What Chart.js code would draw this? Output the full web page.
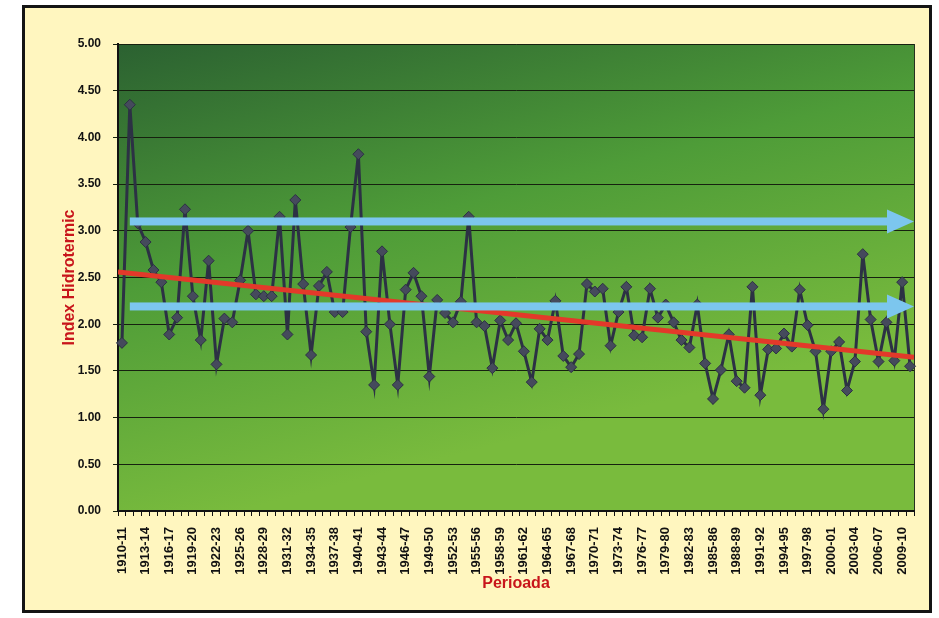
<!DOCTYPE html>
<html>
<head>
<meta charset="utf-8">
<title>Index Hidrotermic</title>
<script src="https://cdn.jsdelivr.net/npm/chart.js@4.4.1/dist/chart.umd.min.js"></script>
<style>
  html, body { margin: 0; padding: 0; background: #ffffff; overflow: hidden; }
  #wrap { position: relative; width: 939px; height: 618px; }
  #frame {
    position: absolute; left: 22px; top: 5px; width: 910px; height: 608px;
    box-sizing: border-box; border: 3px solid #141414; background: #fff6bf;
  }
  #chart { position: absolute; left: 0; top: 0; }
</style>
</head>
<body>
<div id="wrap">
  <div id="frame"></div>
  <canvas id="chart" width="939" height="618"></canvas>
</div>
<script>
// Agricultural years on the category axis
const periods = [
  '1910-11','1911-12','1912-13','1913-14','1914-15','1915-16','1916-17','1917-18','1918-19','1919-20',
  '1920-21','1921-22','1922-23','1923-24','1924-25','1925-26','1926-27','1927-28','1928-29','1929-30',
  '1930-31','1931-32','1932-33','1933-34','1934-35','1935-36','1936-37','1937-38','1938-39','1939-40',
  '1940-41','1941-42','1942-43','1943-44','1944-45','1945-46','1946-47','1947-48','1948-49','1949-50',
  '1950-51','1951-52','1952-53','1953-54','1954-55','1955-56','1956-57','1957-58','1958-59','1959-60',
  '1960-61','1961-62','1962-63','1963-64','1964-65','1965-66','1966-67','1967-68','1968-69','1969-70',
  '1970-71','1971-72','1972-73','1973-74','1974-75','1975-76','1976-77','1977-78','1978-79','1979-80',
  '1980-81','1981-82','1982-83','1983-84','1984-85','1985-86','1986-87','1987-88','1988-89','1989-90',
  '1990-91','1991-92','1992-93','1993-94','1994-95','1995-96','1996-97','1997-98','1998-99','1999-00',
  '2000-01','2001-02','2002-03','2003-04','2004-05','2005-06','2006-07','2007-08','2008-09','2009-10',
  '2010-11'
];

// Hydrothermal index for each period
const hydroIndex = [
  1.80, 4.35, 3.08, 2.88, 2.58, 2.45, 1.89, 2.07, 3.23, 2.30,
  1.83, 2.68, 1.57, 2.06, 2.02, 2.47, 3.00, 2.32, 2.30, 2.30,
  3.15, 1.89, 3.33, 2.43, 1.67, 2.41, 2.56, 2.13, 2.13, 3.04,
  3.82, 1.92, 1.35, 2.78, 2.00, 1.35, 2.37, 2.55, 2.30, 1.44,
  2.26, 2.12, 2.02, 2.24, 3.15, 2.02, 1.98, 1.53, 2.04, 1.83,
  2.01, 1.71, 1.38, 1.95, 1.83, 2.25, 1.66, 1.54, 1.68, 2.43,
  2.35, 2.38, 1.77, 2.13, 2.40, 1.88, 1.86, 2.38, 2.07, 2.21,
  2.02, 1.83, 1.75, 2.21, 1.58, 1.20, 1.51, 1.89, 1.39, 1.32,
  2.40, 1.24, 1.73, 1.74, 1.90, 1.76, 2.37, 1.99, 1.71, 1.09,
  1.71, 1.81, 1.29, 1.60, 2.75, 2.05, 1.60, 2.02, 1.61, 2.45,
  1.55
];

// Linear trend: value at the left and right edge of the period axis
const trendValues = [2.56, 1.645];

// Levels marked by the two horizontal arrows
const arrowLevels = [3.10, 2.19];

// Value axis range and step
const yRange = [0, 5];
const yStep = 0.5;

// Show every n-th period label
const labelEvery = 3;

const FONT = '"Liberation Sans", Arial, Helvetica, sans-serif';
const lastIdx = periods.length - 1;

// Green gradient behind the plot area and a thin right edge
const plotBackground = {
  id: 'plotBackground',
  beforeDraw(chart) {
    const { ctx, chartArea: a } = chart;
    const g = ctx.createLinearGradient(a.left, a.top, a.left + 120, a.bottom);
    g.addColorStop(0, '#2b6131');
    g.addColorStop(0.5, '#4e9c38');
    g.addColorStop(1, '#79bb3d');
    ctx.save();
    ctx.fillStyle = g;
    ctx.fillRect(a.left, a.top, a.right - a.left, a.bottom - a.top);
    ctx.strokeStyle = '#27301f';
    ctx.lineWidth = 1;
    ctx.beginPath();
    ctx.moveTo(a.right + 0.5, a.top);
    ctx.lineTo(a.right + 0.5, a.bottom);
    ctx.stroke();
    ctx.restore();
  }
};

// Thick arrows drawn between the first and last point of datasets flagged "arrow"
const arrowPlugin = {
  id: 'arrowPlugin',
  afterDatasetsDraw(chart, args, opts) {
    const { ctx } = chart;
    chart.data.datasets.forEach((ds, i) => {
      if (!ds.arrow) return;
      const pts = chart.getDatasetMeta(i).data;
      const a = pts[0], b = pts[pts.length - 1];
      const base = b.x - opts.headLength;
      ctx.save();
      ctx.fillStyle = ds.borderColor;
      ctx.fillRect(a.x, a.y - opts.shaftWidth / 2, base - a.x, opts.shaftWidth);
      ctx.beginPath();
      ctx.moveTo(base, b.y - opts.headHalfWidth);
      ctx.lineTo(b.x, b.y);
      ctx.lineTo(base, b.y + opts.headHalfWidth);
      ctx.closePath();
      ctx.fill();
      ctx.restore();
    });
  }
};

const arrowDatasets = arrowLevels.map(v => ({
  arrow: true,
  xAxisID: 'xf',
  data: [{ x: 1, y: v }, { x: lastIdx + 0.5, y: v }],
  borderColor: '#7cc6ee',
  showLine: false,
  pointRadius: 0,
  order: 0
}));

new Chart(document.getElementById('chart'), {
  type: 'line',
  data: {
    labels: periods,
    datasets: [
      ...arrowDatasets,
      {
        label: 'Trend',
        xAxisID: 'xf',
        data: [{ x: -0.5, y: trendValues[0] }, { x: lastIdx + 0.5, y: trendValues[1] }],
        borderColor: '#e3392a',
        borderWidth: 5,
        pointRadius: 0,
        order: 1
      },
      {
        label: 'Index Hidrotermic',
        xAxisID: 'x',
        data: hydroIndex,
        borderColor: '#2c3144',
        borderWidth: 3,
        pointStyle: 'rectRot',
        pointRadius: 5.5,
        pointBackgroundColor: '#454a5c',
        pointBorderColor: '#2c3144',
        pointBorderWidth: 1,
        tension: 0,
        order: 2
      }
    ]
  },
  options: {
    responsive: false,
    animation: false,
    events: [],
    layout: { padding: { left: 0, top: 44, right: 25, bottom: 0 } },
    plugins: {
      legend: { display: false },
      tooltip: { enabled: false },
      arrowPlugin: { headLength: 27, headHalfWidth: 12, shaftWidth: 8 }
    },
    scales: {
      x: {
        type: 'category',
        offset: true,
        grid: { drawOnChartArea: false, drawTicks: true, tickLength: 5, offset: true, color: '#111111', lineWidth: 1 },
        border: { display: true, color: '#111111', width: 2 },
        ticks: {
          autoSkip: false,
          minRotation: 90,
          maxRotation: 90,
          padding: 11,
          color: '#111111',
          font: { family: FONT, size: 13, weight: 'bold' },
          callback(value, index) { return index % labelEvery === 0 ? this.getLabelForValue(value) : ''; }
        },
        title: {
          display: true,
          text: 'Perioada',
          color: '#c8151b',
          font: { family: FONT, size: 16, weight: 'bold' },
          padding: { top: 0, bottom: 25 }
        },
        afterFit(scale) { scale.height = 107; }
      },
      xf: { type: 'linear', display: false, min: -0.5, max: lastIdx + 0.5 },
      y: {
        min: yRange[0],
        max: yRange[1],
        grid: { color: '#16210f', lineWidth: 1, drawTicks: true, tickLength: 5 },
        border: { color: '#111111', width: 2 },
        ticks: {
          stepSize: yStep,
          padding: 12,
          color: '#111111',
          font: { family: FONT, size: 12, weight: 'bold' },
          callback: v => v.toFixed(2)
        },
        title: {
          display: true,
          text: 'Index Hidrotermic',
          color: '#c8151b',
          font: { family: FONT, size: 16, weight: 'bold' },
          padding: { top: 60, bottom: 0 }
        },
        afterFit(scale) { scale.width = 118; }
      }
    }
  },
  plugins: [plotBackground, arrowPlugin]
});
</script>
</body>
</html>
